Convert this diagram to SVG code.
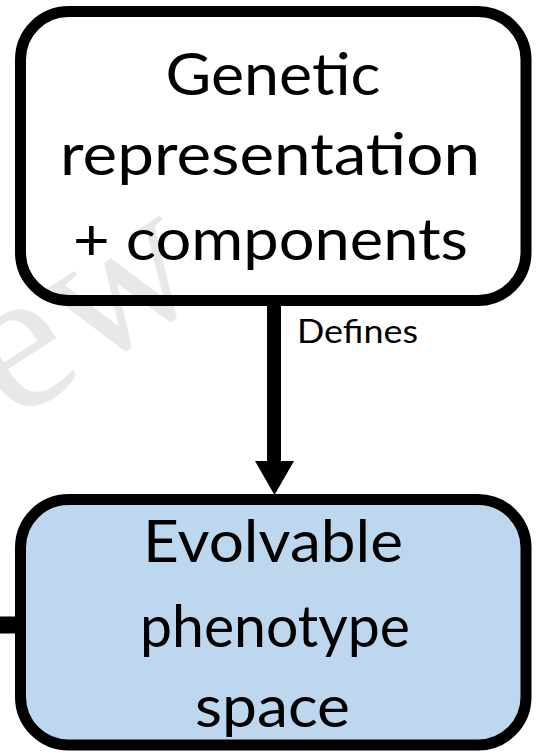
<svg xmlns="http://www.w3.org/2000/svg" width="544" height="753" viewBox="0 0 544 753">
  <style>
    .box { stroke: #000; stroke-width: 11; }
    .label { font-family: Lato, "Open Sans", "Liberation Sans", sans-serif; font-size: 59px; fill: #000; text-anchor: middle; }
    .edge-label { font-family: Lato, "Open Sans", "Liberation Sans", sans-serif; font-size: 33px; fill: #000; }
    .wire { stroke: #000; stroke-width: 14; fill: none; }
  </style>
  <rect width="544" height="753" fill="#fff"/>

  <g id="genetic-representation">
    <rect class="box" x="20.5" y="11.5" width="505.5" height="289" rx="48" fill="#fff"/>
    <text class="label" x="273" y="95" textLength="215" lengthAdjust="spacingAndGlyphs">Genetic</text>
    <text class="label" x="270" y="175" textLength="420" lengthAdjust="spacingAndGlyphs">representation</text>
    <text class="label" x="270.5" y="260" textLength="395" lengthAdjust="spacingAndGlyphs">+ components</text>
  </g>

  <g id="phenotype-space">
    <rect class="box" x="20.5" y="499.5" width="505.5" height="245.5" rx="48" fill="#bdd7ee"/>
    <text class="label" x="273" y="562" textLength="260" lengthAdjust="spacingAndGlyphs">Evolvable</text>
    <text class="label" x="275" y="647" textLength="270" lengthAdjust="spacingAndGlyphs">phenotype</text>
    <text class="label" x="272.5" y="727" textLength="155" lengthAdjust="spacingAndGlyphs">space</text>
  </g>

  <g id="connectors">
    <line class="wire" x1="274" y1="304" x2="274" y2="462"/>
    <polygon points="255,461 294,461 274.5,495" fill="#000"/>
    <text class="edge-label" x="297" y="343" textLength="121" lengthAdjust="spacingAndGlyphs">Defines</text>
    <line x1="0" y1="625" x2="18" y2="625" stroke="#000" stroke-width="17"/>
  </g>

  <!-- faint watermark lettering -->
  <text transform="translate(12,423) rotate(-33)" font-family="'Liberation Serif', serif" font-size="204" fill="#000" fill-opacity="0.09">ew</text>
</svg>
